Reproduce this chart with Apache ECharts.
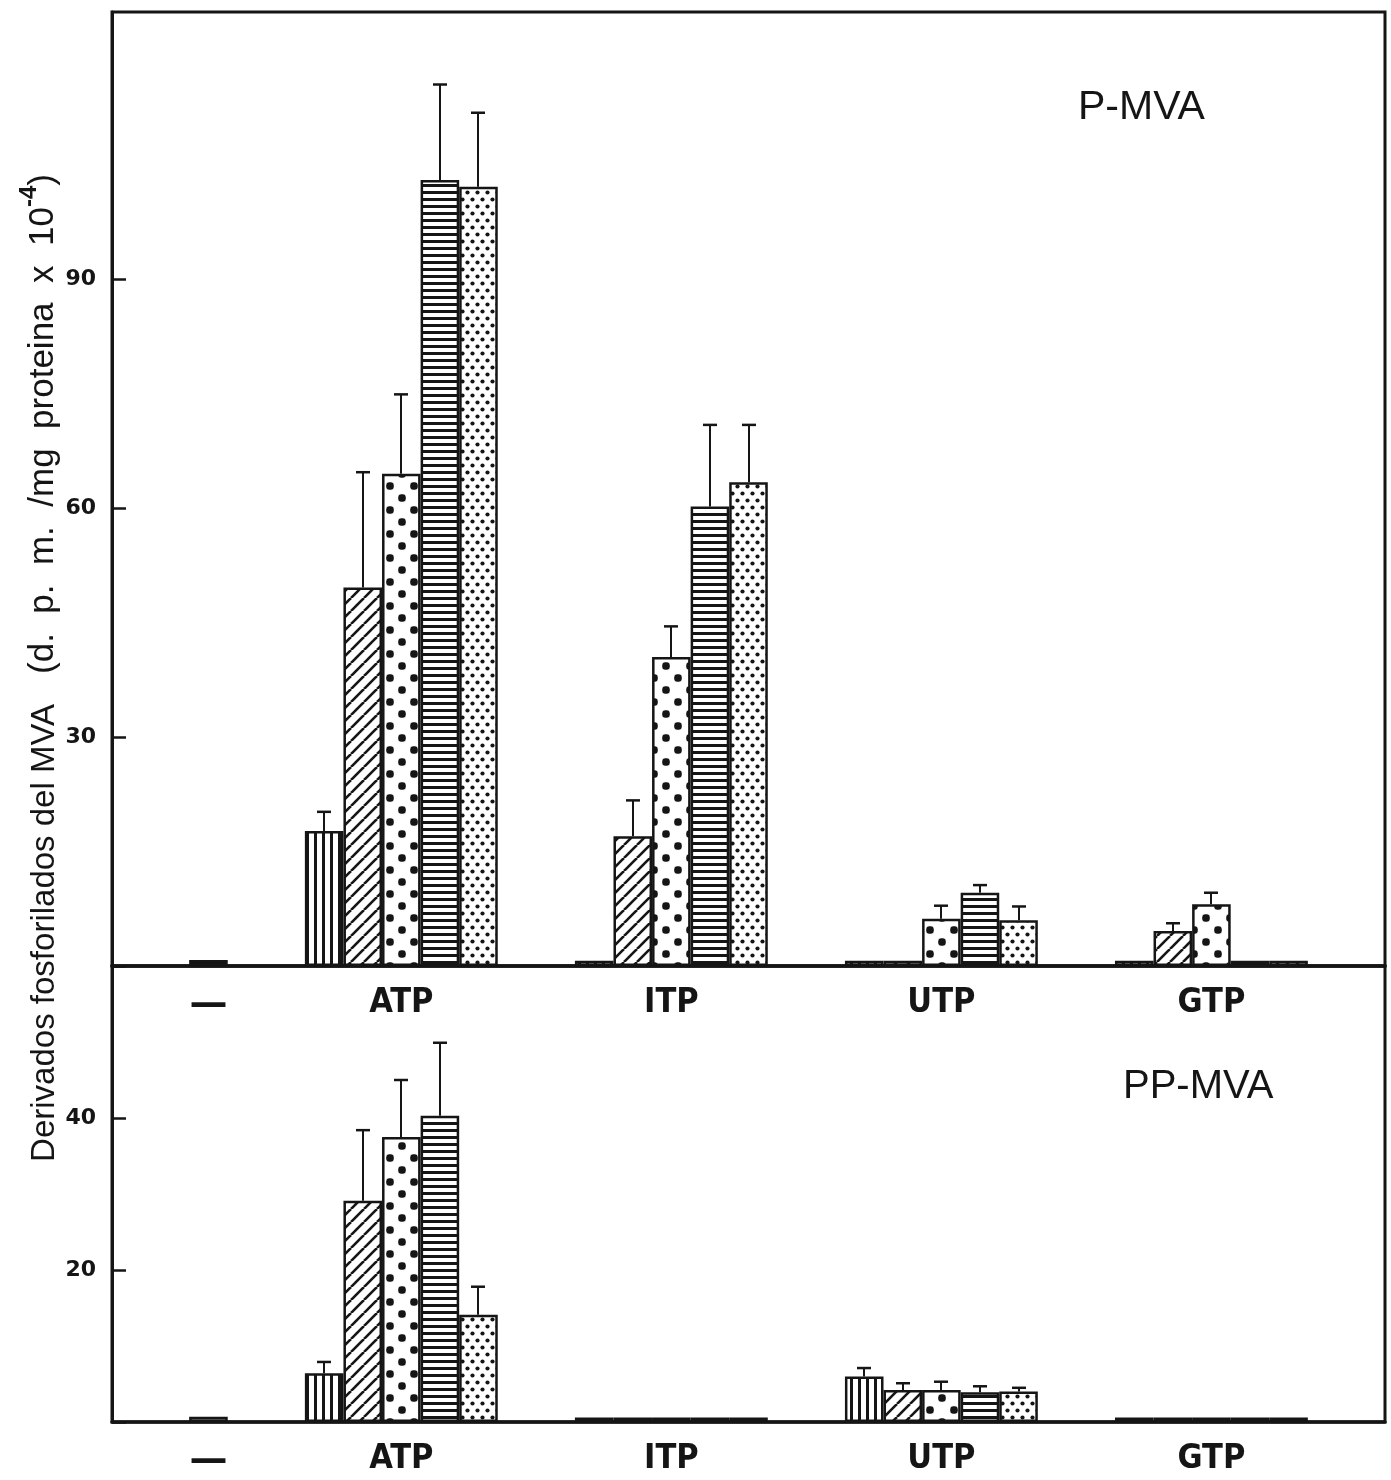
<!DOCTYPE html>
<html>
<head>
<meta charset="utf-8">
<script src="https://cdn.jsdelivr.net/npm/echarts@6/dist/echarts.min.js"></script>
<style>
html,body{margin:0;padding:0;background:#fff;}
#chart{width:1391px;height:1480px;}
</style>
</head>
<body>
<div id="chart"></div>
<script>
// ---------------- DATA ----------------
// category (tick) labels
const categoryLabels = ['—', 'ATP', 'ITP', 'UTP', 'GTP'];
const nucleotides = ['ATP', 'ITP', 'UTP', 'GTP'];

// Upper panel: P-MVA  (values for ATP, ITP, UTP, GTP)
const pmvaControl = 0.8;
const pmvaVertical   = [17.7, 0.7, 0.7, 0.7];
const pmvaHatched    = [49.6, 17.0, 0.7, 4.6];
const pmvaBigDots    = [64.5, 40.5, 6.2, 8.1];
const pmvaHoriz      = [103.0, 60.2, 9.6, 0.7];
const pmvaSmallDots  = [102.1, 63.4, 6.0, 0.7];
// error (SD) for the upper panel
const pmvaVerticalErr  = [2.5, null, null, null];
const pmvaHatchedErr   = [15.1, 4.7, null, 1.0];
const pmvaBigDotsErr   = [10.4, 4.0, 1.7, 1.5];
const pmvaHorizErr     = [12.5, 10.7, 1.0, null];
const pmvaSmallDotsErr = [9.7, 7.5, 1.8, null];

// Lower panel: PP-MVA
const ppmvaControl = 0.7;
const ppmvaVertical   = [6.4, 0.6, 6.0, 0.6];
const ppmvaHatched    = [29.1, 0.6, 4.2, 0.6];
const ppmvaBigDots    = [37.5, 0.6, 4.2, 0.6];
const ppmvaHoriz      = [40.3, 0.6, 3.9, 0.6];
const ppmvaSmallDots  = [14.1, 0.6, 4.0, 0.6];
const ppmvaVerticalErr  = [1.5, null, 1.1, null];
const ppmvaHatchedErr   = [9.3, null, 0.9, null];
const ppmvaBigDotsErr   = [7.5, null, 1.1, null];
const ppmvaHorizErr     = [9.6, null, 0.8, null];
const ppmvaSmallDotsErr = [3.7, null, 0.5, null];

const upperTicks = [30, 60, 90];
const lowerTicks = [20, 40];

// ---------------- LAYOUT (slots on a category axis) ----------------
const SLOT_COUNT = 33;
const CONTROL_SLOT = 2;
const GROUP_START = [5, 12, 19, 26];
const LABEL_SLOT = [2, 7, 14, 21, 28];

const slotLabels = [];
for (let i = 0; i < SLOT_COUNT; i++) {
  const k = LABEL_SLOT.indexOf(i);
  slotLabels.push(k >= 0 ? categoryLabels[k] : '');
}

// ---------------- PATTERNS ----------------
const INK = '#151515';
function makePattern(w, h, draw) {
  const c = document.createElement('canvas');
  c.width = w; c.height = h;
  const ctx = c.getContext('2d');
  ctx.fillStyle = '#fff';
  ctx.fillRect(0, 0, w, h);
  ctx.fillStyle = INK;
  ctx.strokeStyle = INK;
  draw(ctx, w, h);
  return { image: c, repeat: 'repeat' };
}
const patVertical = makePattern(8, 8, (ctx) => { ctx.fillRect(2, 0, 3, 8); });
const patHatched = makePattern(13, 13, (ctx, w, h) => {
  ctx.lineWidth = 2.6;
  for (let k = -1; k <= 1; k++) {
    ctx.beginPath(); ctx.moveTo(k * w, h); ctx.lineTo(k * w + w, 0); ctx.stroke();
  }
});
const patBigDots = makePattern(24, 24, (ctx) => {
  function d(x, y) { ctx.beginPath(); ctx.arc(x, y, 3.8, 0, Math.PI * 2); ctx.fill(); ctx.fillRect(x - 3.2, y - 3.2, 6.4, 6.4); }
  d(6, 6); d(18, 18);
});
const patHoriz = makePattern(8, 7, (ctx) => { ctx.fillRect(0, 2, 8, 3); });
const patSmallDots = makePattern(10, 14, (ctx) => {
  function d(x, y) { ctx.beginPath(); ctx.arc(x, y, 2.1, 0, Math.PI * 2); ctx.fill(); }
  d(2.5, 3.5); d(7.5, 10.5);
});
const patControl = patHoriz;

// ---------------- BUILD SERIES ----------------
function slotData(values, offset) {
  const arr = new Array(SLOT_COUNT).fill('-');
  values.forEach((v, g) => { arr[GROUP_START[g] + offset] = v; });
  return arr;
}
function controlData(v) {
  const arr = new Array(SLOT_COUNT).fill('-');
  arr[CONTROL_SLOT] = v;
  return arr;
}
function errData(values, errs, offset) {
  const out = [];
  values.forEach((v, g) => {
    if (errs[g] != null) out.push([GROUP_START[g] + offset, v, v + errs[g]]);
  });
  return out;
}

const barStyle = (pat) => ({ color: pat, borderColor: INK, borderWidth: 2.5 });

function panelSeries(axisIdx, control, sets) {
  const s = [];
  s.push({
    type: 'bar', xAxisIndex: axisIdx, yAxisIndex: axisIdx, barWidth: '100%', barGap: '-100%',
    data: controlData(control), itemStyle: barStyle(patControl), silent: true, z: 2
  });
  sets.forEach((set, i) => {
    s.push({
      type: 'bar', name: set.name, xAxisIndex: axisIdx, yAxisIndex: axisIdx,
      barWidth: '100%', barGap: '-100%',
      data: slotData(set.values, i), itemStyle: barStyle(set.pat), silent: true, z: 2
    });
  });
  const errs = [];
  sets.forEach((set, i) => { errs.push(...errData(set.values, set.errs, i)); });
  s.push({
    type: 'custom', xAxisIndex: axisIdx, yAxisIndex: axisIdx, silent: true, z: 3,
    data: errs,
    renderItem: function (params, api) {
      const p0 = api.coord([api.value(0), api.value(1)]);
      const p1 = api.coord([api.value(0), api.value(2)]);
      const x = Math.round(p0[0]);
      return {
        type: 'group',
        children: [
          { type: 'line', shape: { x1: x, y1: p0[1], x2: x, y2: p1[1] }, style: { stroke: INK, lineWidth: 2 } },
          { type: 'line', shape: { x1: x - 7, y1: p1[1], x2: x + 7, y2: p1[1] }, style: { stroke: INK, lineWidth: 2.5 } }
        ]
      };
    }
  });
  return s;
}

const upperSets = [
  { name: 's1', values: pmvaVertical, errs: pmvaVerticalErr, pat: patVertical },
  { name: 's2', values: pmvaHatched, errs: pmvaHatchedErr, pat: patHatched },
  { name: 's3', values: pmvaBigDots, errs: pmvaBigDotsErr, pat: patBigDots },
  { name: 's4', values: pmvaHoriz, errs: pmvaHorizErr, pat: patHoriz },
  { name: 's5', values: pmvaSmallDots, errs: pmvaSmallDotsErr, pat: patSmallDots }
];
const lowerSets = [
  { name: 's1', values: ppmvaVertical, errs: ppmvaVerticalErr, pat: patVertical },
  { name: 's2', values: ppmvaHatched, errs: ppmvaHatchedErr, pat: patHatched },
  { name: 's3', values: ppmvaBigDots, errs: ppmvaBigDotsErr, pat: patBigDots },
  { name: 's4', values: ppmvaHoriz, errs: ppmvaHorizErr, pat: patHoriz },
  { name: 's5', values: ppmvaSmallDots, errs: ppmvaSmallDotsErr, pat: patSmallDots }
];

const catFont = '"Liberation Sans Narrow", "DejaVu Sans Condensed", sans-serif';
const numFont = '"DejaVu Sans", sans-serif';
const textFont = '"Liberation Sans", "Noto Sans", sans-serif';

function xAxisCfg(gridIndex) {
  return {
    type: 'category', gridIndex: gridIndex, data: slotLabels, boundaryGap: true,
    axisLine: { show: true, lineStyle: { color: INK, width: 3.5 } },
    axisTick: { show: false },
    axisLabel: {
      interval: 0, color: INK, fontFamily: catFont, fontWeight: 'bold', fontSize: 34,
      margin: 20,
      rich: { dash: { fontSize: 38, fontWeight: 'bold', fontFamily: numFont } },
      formatter: (v) => v === '—' ? '{dash|—}' : v
    },
    splitLine: { show: false }
  };
}
function yAxisCfg(gridIndex, max, interval, ticks) {
  return {
    type: 'value', gridIndex: gridIndex, min: 0, max: max, interval: interval,
    axisLine: { show: true, lineStyle: { color: INK, width: 3 } },
    axisTick: { show: true, inside: true, length: 14, lineStyle: { color: INK, width: 2.5 },
                customValues: [0].concat(ticks) },
    axisLabel: { color: INK, fontFamily: numFont, fontWeight: 'bold', fontSize: 22, margin: 16,
                 customValues: ticks,
                 formatter: (v) => ticks.indexOf(v) >= 0 ? String(v) : '' },
    splitLine: { show: false }
  };
}

const option = {
  animation: false,
  backgroundColor: '#fff',
  grid: [
    { left: 112, right: 6, top: 12, height: 954, show: true, borderColor: INK, borderWidth: 3 },
    { left: 112, right: 6, top: 966, height: 458, show: true, borderColor: INK, borderWidth: 3 }
  ],
  xAxis: [xAxisCfg(0), xAxisCfg(1)],
  yAxis: [yAxisCfg(0, 125, 30, upperTicks), yAxisCfg(1, 60, 20, lowerTicks)],
  title: [
    { text: 'P-MVA', left: 1073, top: 82, textStyle: { fontFamily: textFont, fontWeight: 'normal', fontSize: 41, color: INK } },
    { text: 'PP-MVA', left: 1118, top: 1062, textStyle: { fontFamily: textFont, fontWeight: 'normal', fontSize: 40, color: INK } }
  ],
  graphic: [
    {
      type: 'text', x: 39, y: 668, rotation: Math.PI / 2,
      style: {
        text: '{t|Derivados fosforilados del MVA}{g| }{u|(d.  p.  m.  /mg  proteina  x  10}{sup|-4}{u|)}',
        align: 'center', verticalAlign: 'middle', fill: INK,
        rich: {
          t: { fontFamily: textFont, fontSize: 33, fill: INK, verticalAlign: 'bottom', lineHeight: 44 },
          g: { fontFamily: textFont, fontSize: 33, width: 30, lineHeight: 44 },
          u: { fontFamily: textFont, fontSize: 35, fill: INK, verticalAlign: 'bottom', lineHeight: 44 },
          sup: { fontFamily: textFont, fontSize: 24, fontWeight: 'bold', fill: INK, verticalAlign: 'top', lineHeight: 44 }
        }
      }
    }
  ],
  series: [].concat(panelSeries(0, pmvaControl, upperSets), panelSeries(1, ppmvaControl, lowerSets))
};

const chart = echarts.init(document.getElementById('chart'), null, { renderer: 'canvas' });
chart.setOption(option);
</script>
</body>
</html>
